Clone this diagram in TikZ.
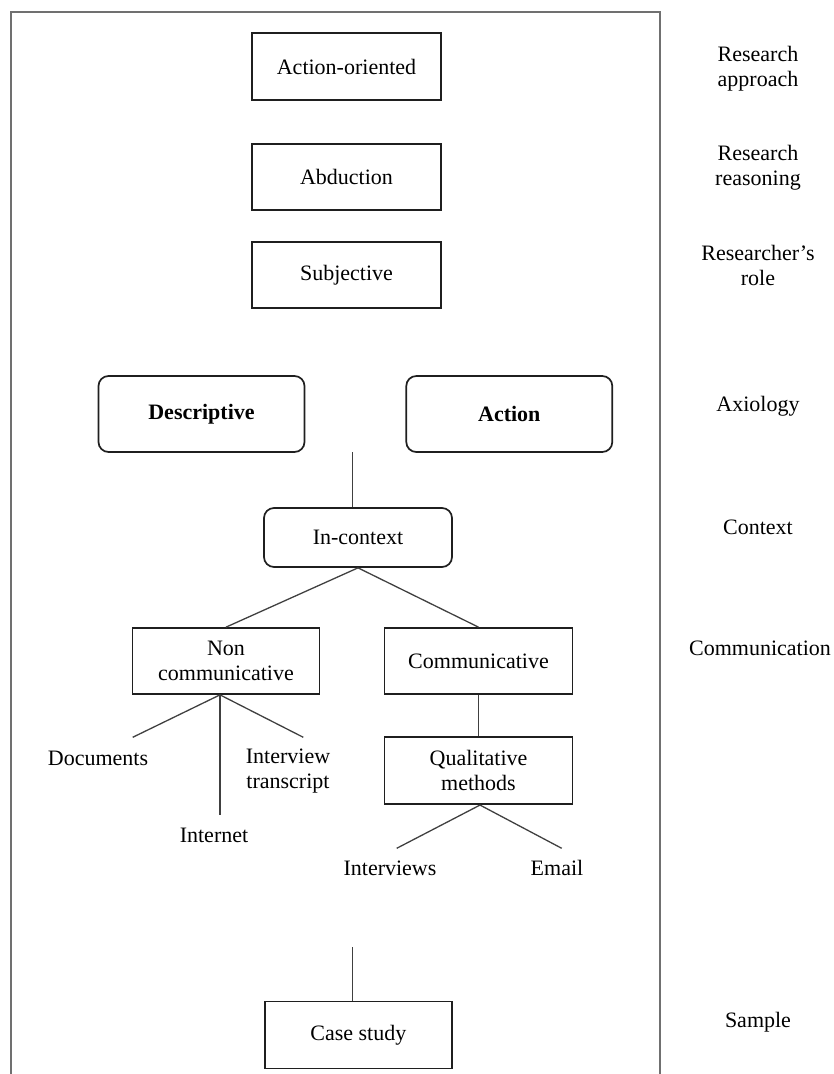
\documentclass[tikz,border=0pt]{standalone}
\usepackage{fontspec}
\setmainfont{Liberation Serif}
\begin{document}
\begin{tikzpicture}[x=1pt,y=-1pt,
  font=\fontsize{22}{25}\selectfont,
  frame/.style={draw=black!56,line width=2.6pt},
  box/.style={draw=black!88,line width=1.7pt,inner sep=0pt,align=center,fill=white},
  rbox/.style={box,rounded corners=10pt},
  sz/.style 2 args={minimum width=#1pt,minimum height=#2pt},
  conn/.style={draw=black!75,line width=1.3pt},
  leaf/.style={inner sep=0pt,align=center},
  lab/.style={inner sep=0pt,align=center}]
\useasboundingbox (0,0) rectangle (833,1074);

% outer frame (runs off the lower edge)
\draw[frame] (11,12) rectangle (660,1090);

% main column
\node[box,sz={189}{67}] (ao) at (346.5,66.5) {Action-oriented};
\node[box,sz={189}{66}] (ab) at (346.5,177) {Abduction};
\node[box,sz={189}{66}] (sj) at (346.5,275) {Subjective};
\node[rbox,sz={206}{76}] (de) at (201.5,414) {\bfseries Descriptive};
\node[rbox,sz={206}{76}] (ac) at (509.3,414) {\bfseries Action};
\node[rbox,sz={188}{59}] (ctx) at (358,537.5) {In-context};
\node[box,sz={187}{66}] (nc) at (226,661) {Non\\communicative};
\node[box,sz={188}{66}] (cm) at (478.5,661) {Communicative};
\node[box,sz={188}{67}] (qm) at (478.5,770.7) {Qualitative\\methods};
\node[box,sz={187}{67}] (cs) at (358.3,1035) {Case study};

% leaves
\node[leaf] (doc) at (98,758) {Documents};
\node[leaf] (itr) at (288,771) {Interview\\transcript};
\node[leaf] (int) at (214,835) {Internet};
\node[leaf] (ivs) at (390,868) {Interviews};
\node[leaf] (em) at (557,868) {Email};

% level labels
\node[lab] (l1) at (758,68.5) {Research\\approach};
\node[lab] (l2) at (758,167.5) {Research\\reasoning};
\node[lab] (l3) at (758,265.5) {Researcher’s\\role};
\node[lab] (l4) at (758,406) {Axiology};
\node[lab] (l5) at (758,527) {Context};
\node[lab] (l6) at (760,648) {Communication};
\node[lab] (l7) at (758,1022) {Sample};

% connectors
\coordinate (axj) at (352.7,452);
\draw[conn] (axj) -- (axj |- ctx.north);
\draw[conn] (ctx.south) -- (nc.north);
\draw[conn] (ctx.south) -- (cm.north);

\coordinate (ncb) at ([xshift=-6pt]nc.south);
\coordinate (e-doc) at (132.7,737.3);
\coordinate (e-int) at (220,815);
\coordinate (e-itr) at (303.3,737.3);
\draw[conn] (ncb) -- (e-doc);
\draw[conn] (ncb) -- (e-int);
\draw[conn] (ncb) -- (e-itr);

\draw[conn] (cm.south) -- (qm.north);
\coordinate (qmb) at ([xshift=1.5pt]qm.south);
\coordinate (e-ivs) at (396.7,848.3);
\coordinate (e-em) at (561.7,848.3);
\draw[conn] (qmb) -- (e-ivs);
\draw[conn] (qmb) -- (e-em);

\coordinate (csj) at (352.7,947.3);
\draw[conn] (csj) -- (csj |- cs.north);
\end{tikzpicture}
\end{document}
